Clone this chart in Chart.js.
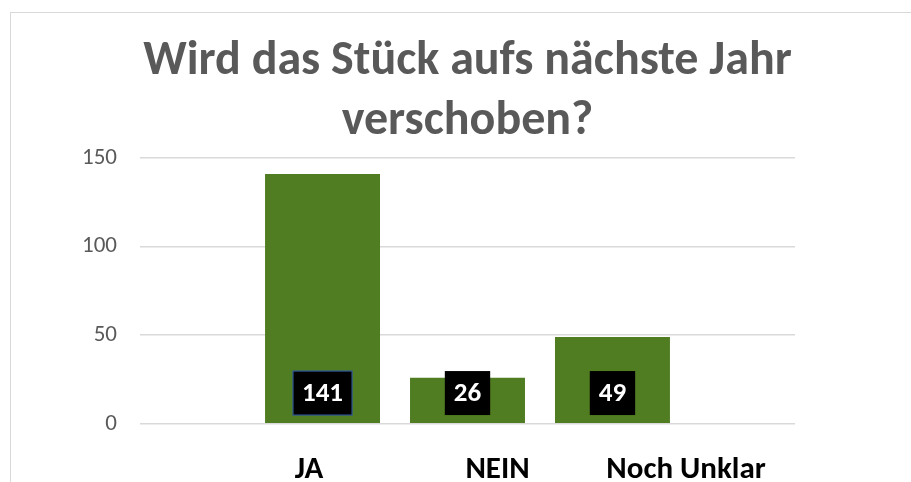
<!DOCTYPE html>
<html>
<head>
<meta charset="utf-8">
<script src="https://cdn.jsdelivr.net/npm/chart.js@4"></script>
<style>
	html, body { margin: 0; padding: 0; background: #ffffff; overflow: hidden; }
	#wrap { position: relative; width: 911px; height: 482px; overflow: hidden; }
	#frame { position: absolute; left: 10px; top: 12px; width: 960px; height: 520px; border: 1px solid #d9d9d9; }
	canvas { position: absolute; left: 0; top: 0; }
</style>
</head>
<body>
<div id="wrap">
	<div id="frame"></div>
	<canvas id="voteChart" width="911" height="520"></canvas>
</div>
<script>
const titleLines = ["Wird das Stück aufs nächste Jahr", "verschoben?"];
const answers = ["JA", "NEIN", "Noch Unklar"];
const votes = [141, 26, 49];
const yTicks = [0, 50, 100, 150];

const green = "#507d22";

// value boxes (black with white text) near the bottom of each bar
const valueBoxes = {
	id: "valueBoxes",
	afterDatasetsDraw(chart) {
		const c = chart.ctx;
		c.save();
		c.font = "bold 27px Carlito";
		c.textAlign = "center";
		c.textBaseline = "middle";
		chart.data.datasets.forEach((ds, i) => {
			const bar = chart.getDatasetMeta(i).data[0];
			const txt = String(ds.data[0]);
			const w = c.measureText(txt).width + 18;
			const h = 44;
			const cy = bar.base - 30;
			c.fillStyle = "#000000";
			c.fillRect(bar.x - w / 2, cy - h / 2, w, h);
			if (i === 0) {
				c.strokeStyle = "#2f5597";
				c.lineWidth = 1.2;
				c.strokeRect(bar.x - w / 2, cy - h / 2, w, h);
			}
			c.fillStyle = "#ffffff";
			c.fillText(txt, bar.x, cy + 1);
		});
		c.restore();
	},
};

const ctx = document.getElementById("voteChart");

new Chart(ctx, {
	type: "bar",
	data: {
		labels: [""],
		datasets: answers.map((a, i) => ({
			label: a,
			data: [votes[i]],
			backgroundColor: green,
			borderWidth: 0,
			categoryPercentage: 0.664,
			barPercentage: 0.793,
		})),
	},
	options: {
		responsive: false,
		animation: false,
		layout: { padding: { left: 24, right: 0, top: 0, bottom: 3 } },
		plugins: {
			legend: { display: false },
			tooltip: { enabled: false },
			title: {
				display: true,
				text: titleLines,
				color: "#595959",
				font: { family: "Carlito", size: 48, weight: "bold", lineHeight: 1.25 },
				padding: { top: 32, bottom: 6 },
			},
		},
		scales: {
			x: { display: false },
			x2: {
				type: "linear",
				position: "bottom",
				offset: false,
				min: 0.1034,
				max: 3.578,
				grid: { display: false, drawTicks: false },
				border: { display: false },
				afterBuildTicks: (axis) => {
					axis.ticks = answers.map((a, i) => ({ value: i + 1 }));
				},
				ticks: {
					padding: 28,
					maxRotation: 0,
					color: "#000000",
					font: { family: "Carlito", size: 31, weight: "bold" },
					callback: (v) => answers[v - 1],
				},
			},
			y: {
				min: 0,
				max: 150,
				afterBuildTicks: (axis) => {
					axis.ticks = yTicks.map((v) => ({ value: v }));
				},
				afterFit: (axis) => { axis.width = 116; },
				grid: { color: "#d9d9d9", lineWidth: 1.5, drawTicks: false },
				border: { display: false },
				ticks: {
					padding: 23,
					color: "#595959",
					font: { family: "Carlito", size: 23 },
				},
			},
			y2: {
				position: "right",
				min: 0,
				max: 150,
				afterFit: (axis) => { axis.width = 116; },
				grid: { display: false, drawTicks: false },
				border: { display: false },
				ticks: { display: false },
			},
		},
	},
	plugins: [valueBoxes],
});
</script>
</body>
</html>
